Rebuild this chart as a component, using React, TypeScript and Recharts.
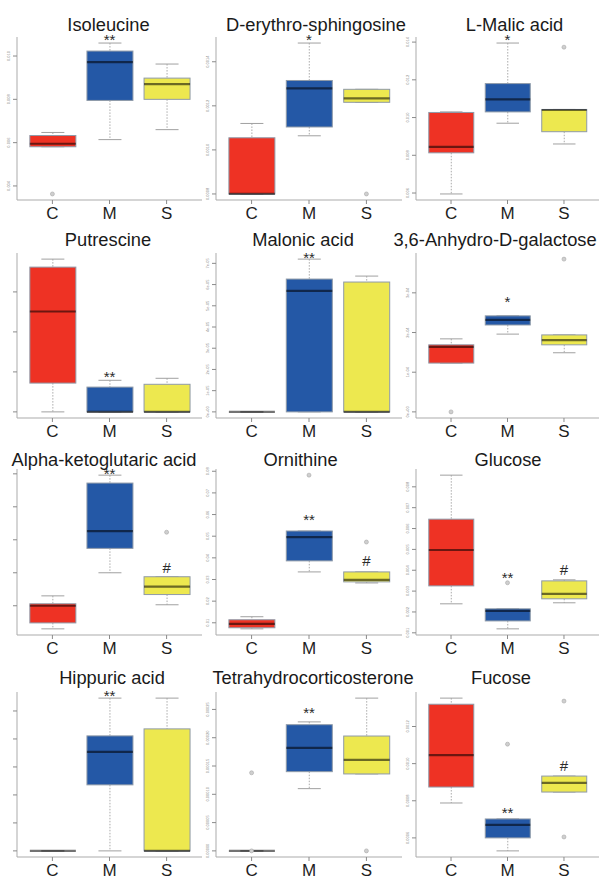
import React from 'react';
import { ComposedChart, Bar, Scatter, XAxis, YAxis } from 'recharts';

const FONT = '"Liberation Sans", Arial, Helvetica, sans-serif';

const groups = ['C', 'M', 'S'];

const titles = [
  'Isoleucine',
  'D-erythro-sphingosine',
  'L-Malic acid',
  'Putrescine',
  'Malonic acid',
  '3,6-Anhydro-D-galactose',
  'Alpha-ketoglutaric acid',
  'Ornithine',
  'Glucose',
  'Hippuric acid',
  'Tetrahydrocorticosterone',
  'Fucose',
];

// Each stats row: [min, q1, median, q3, max] for C, M, S
const isoleucineStats = [
  [0.00581, 0.00581, 0.00595, 0.00633, 0.00647],
  [0.00614, 0.00795, 0.00972, 0.01023, 0.0106],
  [0.0066, 0.008, 0.0087, 0.00898, 0.00963],
];
const isoleucineOutliers = [[0.00363], [], []];
const isoleucineMarks = ['', '**', ''];
const isoleucineMarkY = [null, 0.01085, null];
const isoleucineTicks = [0.004, 0.006, 0.008, 0.01];
const isoleucineTickLabels = ['0.004', '0.006', '0.008', '0.010'];

const sphingosineStats = [
  [0.0008, 0.0008, 0.0008, 0.001055, 0.00112],
  [0.001064, 0.001104, 0.001279, 0.001315, 0.001485],
  [0.001216, 0.001216, 0.001234, 0.001275, 0.001275],
];
const sphingosineOutliers = [[], [], [0.0008]];
const sphingosineMarks = ['', '*', ''];
const sphingosineMarkY = [null, 0.00151, null];
const sphingosineTicks = [0.0008, 0.001, 0.0012, 0.0014];
const sphingosineTickLabels = ['0.0008', '0.0010', '0.0012', '0.0014'];

const malicStats = [
  [0.00595, 0.00813, 0.00845, 0.01027, 0.0103],
  [0.0097, 0.0103, 0.01096, 0.0118, 0.01395],
  [0.0086, 0.00925, 0.0104, 0.01043, 0.01043],
];
const malicOutliers = [[], [], [0.01373]];
const malicMarks = ['', '*', ''];
const malicMarkY = [null, 0.01425, null];
const malicTicks = [0.006, 0.008, 0.01, 0.012, 0.014];
const malicTickLabels = ['0.006', '0.008', '0.010', '0.012', '0.014'];

const putrescineStats = [
  [0, 0.0072, 0.0251, 0.0362, 0.0382],
  [0, 0, 0, 0.0062, 0.0079],
  [0, 0, 0, 0.0069, 0.0084],
];
const putrescineOutliers = [[], [], []];
const putrescineMarks = ['', '**', ''];
const putrescineMarkY = [null, 0.0094, null];
const putrescineTicks = [0, 0.01, 0.02, 0.03];
const putrescineTickLabels = ['0.00', '0.01', '0.02', '0.03'];

const malonicStats = [
  [0, 0, 0, 0, 0],
  [0, 0, 5.7e-5, 6.26e-5, 7.2e-5],
  [0, 0, 0, 6.12e-5, 6.4e-5],
];
const malonicOutliers = [[], [], []];
const malonicMarks = ['', '**', ''];
const malonicMarkY = [null, 7.4e-5, null];
const malonicTicks = [0, 1e-5, 2e-5, 3e-5, 4e-5, 5e-5, 6e-5, 7e-5];
const malonicTickLabels = ['0e+00', '1e-05', '2e-05', '3e-05', '4e-05', '5e-05', '6e-05', '7e-05'];

const anhydroStats = [
  [1.23e-4, 1.23e-4, 1.64e-4, 1.69e-4, 1.84e-4],
  [1.96e-4, 2.19e-4, 2.32e-4, 2.42e-4, 2.42e-4],
  [1.49e-4, 1.69e-4, 1.81e-4, 1.94e-4, 1.94e-4],
];
const anhydroOutliers = [[0], [], [3.85e-4]];
const anhydroMarks = ['', '*', ''];
const anhydroMarkY = [null, 2.85e-4, null];
const anhydroTicks = [0, 1e-4, 2e-4, 3e-4];
const anhydroTickLabels = ['0e+00', '1e-04', '2e-04', '3e-04'];

const ketoglutaricStats = [
  [0.003, 0.0048, 0.01, 0.0106, 0.013],
  [0.02, 0.0274, 0.0326, 0.0472, 0.0496],
  [0.0103, 0.0134, 0.0158, 0.0188, 0.0188],
];
const ketoglutaricOutliers = [[], [], [0.0323]];
const ketoglutaricMarks = ['', '**', '#'];
const ketoglutaricMarkY = [null, 0.0508, 0.0216];
const ketoglutaricTicks = [0.01, 0.02, 0.03, 0.04, 0.05];
const ketoglutaricTickLabels = ['0.01', '0.02', '0.03', '0.04', '0.05'];

const ornithineStats = [
  [0.0072, 0.0077, 0.0095, 0.0114, 0.0128],
  [0.0335, 0.0386, 0.0496, 0.0524, 0.0524],
  [0.0284, 0.0289, 0.0298, 0.0335, 0.0335],
];
const ornithineOutliers = [[], [0.0782], [0.0473]];
const ornithineMarks = ['', '**', '#'];
const ornithineMarkY = [null, 0.0588, 0.0386];
const ornithineTicks = [0.01, 0.02, 0.03, 0.04, 0.05, 0.06, 0.07, 0.08];
const ornithineTickLabels = ['0.01', '0.02', '0.03', '0.04', '0.05', '0.06', '0.07', '0.08'];

const glucoseStats = [
  [0.00239, 0.00325, 0.00497, 0.00645, 0.00856],
  [0.00119, 0.00157, 0.00205, 0.00215, 0.00215],
  [0.00244, 0.00263, 0.00287, 0.00349, 0.00354],
];
const glucoseOutliers = [[], [0.0034], []];
const glucoseMarks = ['', '**', '#'];
const glucoseMarkY = [null, 0.00378, 0.00401];
const glucoseTicks = [0.001, 0.002, 0.003, 0.004, 0.005, 0.006, 0.007, 0.008];
const glucoseTickLabels = ['0.001', '0.002', '0.003', '0.004', '0.005', '0.006', '0.007', '0.008'];

const hippuricStats = [
  [0, 0, 0, 0, 0],
  [0, 2.36e-4, 3.54e-4, 4.11e-4, 5.46e-4],
  [0, 0, 0, 4.36e-4, 5.46e-4],
];
const hippuricOutliers = [[], [], []];
const hippuricMarks = ['', '**', ''];
const hippuricMarkY = [null, 5.62e-4, null];
const hippuricTicks = [0, 1e-4, 2e-4, 3e-4, 4e-4, 5e-4];
const hippuricTickLabels = ['0e+00', '1e-04', '2e-04', '3e-04', '4e-04', '5e-04'];

const corticosteroneStats = [
  [0, 0, 0, 0, 0],
  [1.1e-4, 1.4e-4, 1.82e-4, 2.23e-4, 2.28e-4],
  [1.36e-4, 1.36e-4, 1.61e-4, 2.03e-4, 2.7e-4],
];
const corticosteroneOutliers = [[1.38e-4, 0], [], [0]];
const corticosteroneMarks = ['', '**', ''];
const corticosteroneMarkY = [null, 2.49e-4, null];
const corticosteroneTicks = [0, 5e-5, 1e-4, 1.5e-4, 2e-4, 2.5e-4];
const corticosteroneTickLabels = ['0.00000', '0.00005', '0.00010', '0.00015', '0.00020', '0.00025'];

const fucoseStats = [
  [0.000788, 0.000874, 0.001046, 0.00132, 0.001353],
  [0.00053, 0.0006, 0.00067, 0.000702, 0.000702],
  [0.000847, 0.000847, 0.000896, 0.000933, 0.000933],
];
const fucoseOutliers = [[], [0.001105], [0.001337, 0.000605]];
const fucoseMarks = ['', '**', '#'];
const fucoseMarkY = [null, 0.00075, 0.000987];
const fucoseTicks = [0.0006, 0.0008, 0.001, 0.0012];
const fucoseTickLabels = ['0.0006', '0.0008', '0.0010', '0.0012'];

// ---------- styles / layout ----------
const groupColors: Record<string, string> = { C: '#EE3224', M: '#2458A6', S: '#EDE84F' };
const BORDER = '#ababab';
const TICK = '#8a8a8a';
const WHISKER = '#a0a0a0';

const cols = [
  { left: 17, w: 185 },
  { left: 216, w: 186 },
  { left: 416, w: 183 },
];
const rows = [
  { top: 37, h: 163, titleY: 31 },
  { top: 253, h: 165, titleY: 246 },
  { top: 469, h: 166, titleY: 466 },
  { top: 692, h: 165, titleY: 684 },
];
const titleX = [108.5, 316, 514.5, 108, 303, 495, 104, 300.5, 508, 112, 313, 501];
const showYLabels = [true, true, true, false, true, true, false, true, true, false, true, true];

const panelSources = [
  [isoleucineStats, isoleucineOutliers, isoleucineMarks, isoleucineMarkY, isoleucineTicks, isoleucineTickLabels],
  [sphingosineStats, sphingosineOutliers, sphingosineMarks, sphingosineMarkY, sphingosineTicks, sphingosineTickLabels],
  [malicStats, malicOutliers, malicMarks, malicMarkY, malicTicks, malicTickLabels],
  [putrescineStats, putrescineOutliers, putrescineMarks, putrescineMarkY, putrescineTicks, putrescineTickLabels],
  [malonicStats, malonicOutliers, malonicMarks, malonicMarkY, malonicTicks, malonicTickLabels],
  [anhydroStats, anhydroOutliers, anhydroMarks, anhydroMarkY, anhydroTicks, anhydroTickLabels],
  [ketoglutaricStats, ketoglutaricOutliers, ketoglutaricMarks, ketoglutaricMarkY, ketoglutaricTicks, ketoglutaricTickLabels],
  [ornithineStats, ornithineOutliers, ornithineMarks, ornithineMarkY, ornithineTicks, ornithineTickLabels],
  [glucoseStats, glucoseOutliers, glucoseMarks, glucoseMarkY, glucoseTicks, glucoseTickLabels],
  [hippuricStats, hippuricOutliers, hippuricMarks, hippuricMarkY, hippuricTicks, hippuricTickLabels],
  [corticosteroneStats, corticosteroneOutliers, corticosteroneMarks, corticosteroneMarkY, corticosteroneTicks, corticosteroneTickLabels],
  [fucoseStats, fucoseOutliers, fucoseMarks, fucoseMarkY, fucoseTicks, fucoseTickLabels],
] as any[];

function buildPanel(src: any[]) {
  const [stats, outliers, marks, markY, ticks, tickLabels] = src;
  const rowsData = groups.map((g, i) => ({
    g,
    min: stats[i][0],
    q1: stats[i][1],
    med: stats[i][2],
    q3: stats[i][3],
    max: stats[i][4],
    range: [stats[i][0], stats[i][4]],
    o1: outliers[i].length > 0 ? outliers[i][0] : null,
    o2: outliers[i].length > 1 ? outliers[i][1] : null,
    mark: marks[i],
    markY: markY[i],
  }));
  const all: number[] = [];
  stats.forEach((s: number[]) => all.push(...s));
  outliers.forEach((o: number[]) => all.push(...o));
  const lo = Math.min(...all);
  const hi = Math.max(...all);
  const pad = (hi - lo) * 0.04;
  return { rowsData, domain: [lo - pad, hi + pad], ticks, tickLabels };
}

function BoxShape(props: any) {
  const { x, y, width, height, payload } = props;
  if (!payload || !Number.isFinite(x) || !Number.isFinite(y)) return <g />;
  const { min, q1, med, q3, max, g } = payload;
  const h = Number.isFinite(height) ? Math.abs(height) : 0;
  const top = Number.isFinite(height) ? Math.min(y, y + height) : y;
  const span = max - min;
  const py = (v: number) => (span > 0 ? top + (h * (max - v)) / span : top);
  const cx = x + width / 2;
  const capHalf = width / 4;
  const yMax = py(max);
  const yQ3 = py(q3);
  const yMed = py(med);
  const yQ1 = py(q1);
  const yMin = py(min);
  return (
    <g>
      {yQ3 - yMax > 0.5 && (
        <line x1={cx} x2={cx} y1={yMax} y2={yQ3} stroke={WHISKER} strokeWidth={0.9} strokeDasharray="1.5 1.5" />
      )}
      {yMin - yQ1 > 0.5 && (
        <line x1={cx} x2={cx} y1={yQ1} y2={yMin} stroke={WHISKER} strokeWidth={0.9} strokeDasharray="1.5 1.5" />
      )}
      <line x1={cx - capHalf} x2={cx + capHalf} y1={yMax} y2={yMax} stroke={WHISKER} strokeWidth={1} />
      <line x1={cx - capHalf} x2={cx + capHalf} y1={yMin} y2={yMin} stroke={WHISKER} strokeWidth={1} />
      {yQ1 - yQ3 > 0.2 && (
        <rect x={x} y={yQ3} width={width} height={yQ1 - yQ3} fill={groupColors[g]} stroke="#8f9aa8" strokeWidth={1} />
      )}
      <line x1={x} x2={x + width} y1={yMed} y2={yMed} stroke="#000" strokeOpacity={0.55} strokeWidth={2.2} />
    </g>
  );
}

const outlierShape = (key: string) => (props: any) => {
  const { cx, cy, payload } = props;
  if (!payload || payload[key] == null || !Number.isFinite(cx) || !Number.isFinite(cy)) return <g />;
  return <circle cx={cx} cy={cy} r={2} fill="#cfcfcf" stroke="#a8a8a8" strokeWidth={0.6} />;
};

function MarkShape(props: any) {
  const { cx, cy, payload } = props;
  if (!payload || !payload.mark || !Number.isFinite(cx) || !Number.isFinite(cy)) return <g />;
  const fs = 15;
  const off = payload.mark.indexOf('*') >= 0 ? 0.52 * fs : 0.36 * fs;
  return (
    <text x={cx} y={cy + off} textAnchor="middle" fontSize={fs} fill="#2a2a2a" fontFamily={FONT}>
      {payload.mark}
    </text>
  );
}

function XTick(props: any) {
  const { x, y, payload } = props;
  return (
    <text x={x} y={y + 13} textAnchor="middle" fontSize={17} fill="#1e1e1e" fontFamily={FONT}>
      {payload.value}
    </text>
  );
}

const makeYTick = (ticks: number[], labels: string[], show: boolean) => (props: any) => {
  const { x, y, payload } = props;
  if (!show) return <g />;
  const i = ticks.indexOf(payload.value);
  const label = i >= 0 ? labels[i] : String(payload.value);
  return (
    <text
      transform={`translate(${x - 3},${y}) rotate(-90)`}
      textAnchor="middle"
      dominantBaseline="central"
      fontSize={4}
      fill="#8a8a8a"
      fontFamily={FONT}
    >
      {label}
    </text>
  );
};

const LEFT_SPACE = 16;
const TOP_SPACE = 2;
const BOTTOM_SPACE = 28;

function Panel({ index }: { index: number }) {
  const col = cols[index % 3];
  const row = rows[Math.floor(index / 3)];
  const p = buildPanel(panelSources[index]);
  const width = LEFT_SPACE + col.w + 2;
  const height = TOP_SPACE + row.h + BOTTOM_SPACE;
  const xPad = (col.w * 0.12) / 3.24;
  const barSize = Math.round((col.w / 3.24) * 0.8);
  return (
    <div style={{ position: 'absolute', left: col.left - LEFT_SPACE, top: row.top - TOP_SPACE }}>
      <ComposedChart
        width={width}
        height={height}
        data={p.rowsData}
        margin={{ top: TOP_SPACE, right: 2, bottom: 0, left: 0 }}
      >
        <XAxis
          xAxisId="b"
          dataKey="g"
          type="category"
          padding={{ left: xPad, right: xPad }}
          interval={0}
          height={BOTTOM_SPACE}
          tickSize={4}
          tickMargin={2}
          tickLine={{ stroke: TICK }}
          axisLine={{ stroke: BORDER }}
          tick={<XTick />}
        />
        <XAxis
          xAxisId="t"
          dataKey="g"
          type="category"
          orientation="top"
          height={0}
          tick={false}
          tickLine={false}
          axisLine={{ stroke: BORDER }}
        />
        <YAxis
          yAxisId="l"
          type="number"
          domain={p.domain}
          ticks={p.ticks}
          interval={0}
          width={LEFT_SPACE}
          tickSize={4}
          tickMargin={2}
          tickLine={{ stroke: TICK }}
          axisLine={{ stroke: BORDER }}
          tick={makeYTick(p.ticks, p.tickLabels, showYLabels[index])}
        />
        <YAxis
          yAxisId="r"
          orientation="right"
          width={0}
          tick={false}
          tickLine={false}
          axisLine={{ stroke: BORDER }}
        />
        <Bar xAxisId="b" yAxisId="l" dataKey="range" barSize={barSize} shape={BoxShape} isAnimationActive={false} />
        <Scatter xAxisId="b" yAxisId="l" dataKey="o1" shape={outlierShape('o1')} isAnimationActive={false} />
        <Scatter xAxisId="b" yAxisId="l" dataKey="o2" shape={outlierShape('o2')} isAnimationActive={false} />
        <Scatter xAxisId="b" yAxisId="l" dataKey="markY" shape={MarkShape} isAnimationActive={false} />
      </ComposedChart>
    </div>
  );
}

export default function App() {
  return (
    <div
      style={{
        position: 'absolute',
        left: 0,
        top: 0,
        width: 602,
        height: 877,
        background: '#fff',
        overflow: 'hidden',
        fontFamily: FONT,
      }}
    >
      {titles.map((_, i) => (
        <Panel key={i} index={i} />
      ))}
      <svg width={602} height={877} style={{ position: 'absolute', left: 0, top: 0, pointerEvents: 'none' }}>
        {titles.map((t, i) => (
          <text
            key={t}
            x={titleX[i]}
            y={rows[Math.floor(i / 3)].titleY}
            textAnchor="middle"
            fontSize={18.3}
            fill="#1a1a1a"
            fontFamily={FONT}
          >
            {t}
          </text>
        ))}
      </svg>
    </div>
  );
}
